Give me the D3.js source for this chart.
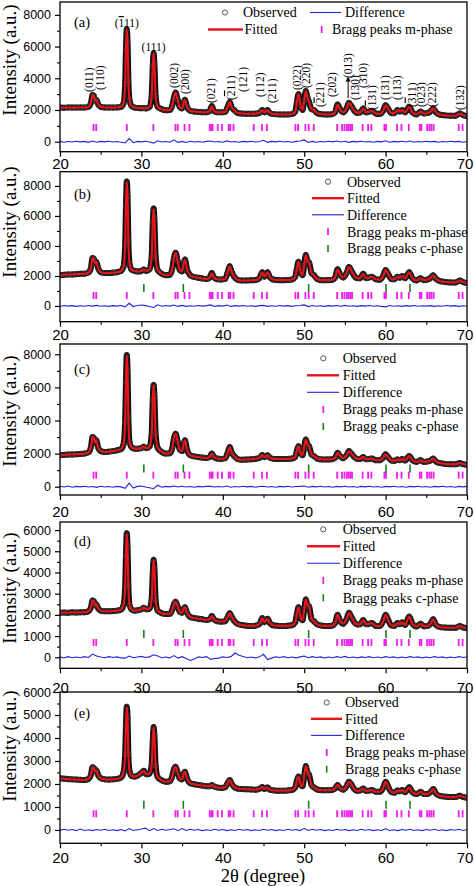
<!DOCTYPE html>
<html><head><meta charset="utf-8">
<script src="https://cdn.jsdelivr.net/npm/d3@7"></script>
<style>
body{margin:0;background:#fff;}
svg{display:block;}
text{font-family:"Liberation Serif","Times New Roman",serif;fill:#000;}
</style></head><body>
<svg id="chart" width="474" height="886"></svg>
<script>
// ---------------- DATA ----------------
const twoTheta = [20,20.5,21,21.5,22,22.5,23,23.5,23.8,24.0,
 24.15,24.3,24.45,24.7,25.0,25.5,26,26.5,27,27.5,
 27.8,28.0,28.1,28.2,28.3,28.4,28.55,28.8,29.2,29.6,
 30.0,30.3,30.6,31.0,31.25,31.4,31.5,31.6,31.75,32.0,
 32.5,33.0,33.5,33.8,34.0,34.2,34.45,34.7,35.0,35.2,
 35.35,35.6,36.0,36.5,37.0,37.5,38.0,38.4,38.65,38.9,
 39.3,39.8,40.3,40.6,40.85,41.1,41.4,41.8,42.3,42.9,
 43.5,44.0,44.5,44.85,45.1,45.5,45.8,46.3,47.0,47.5,
 48.0,48.5,48.9,49.1,49.3,49.55,49.8,50.0,50.2,50.4,
 50.6,50.9,51.2,51.6,52.2,52.8,53.4,53.8,54.1,54.4,
 54.8,55.2,55.5,55.8,56.1,56.5,56.9,57.25,57.6,58.0,
 58.3,58.8,59.3,59.7,60.0,60.3,60.7,61.1,61.45,61.75,
 62.05,62.4,62.9,63.3,63.8,64.3,64.7,65.1,65.5,65.85,
 66.2,66.7,67.3,68.0,68.6,69.1,69.5,70.0];

const observedA = [2150,2140,2160,2150,2150,2160,2150,2200,2450,2950,
 2900,2600,2650,2350,2200,2160,2150,2150,2160,2200,
 2400,3600,5800,7100,6300,3900,2600,2250,2150,2120,
 2110,2120,2100,2200,2800,4800,5600,4900,2900,2200,
 2050,1990,2000,2300,2800,3100,2650,2200,2100,2500,
 2650,2200,1950,1900,1880,1860,1850,1950,2250,1950,
 1850,1850,1880,2200,2500,2150,2000,1820,1780,1760,
 1760,1770,1820,2000,1850,2000,1800,1740,1720,1720,
 1720,1740,1900,2500,3000,2300,2000,2600,3200,2800,
 2500,2050,2000,1800,1730,1720,1730,1850,2350,2050,
 1850,2100,2450,2250,2000,1820,1850,2100,1850,1900,
 1950,1780,1750,1950,2300,2100,1800,1800,2000,1900,
 2000,1850,2200,1850,1720,1900,1780,1800,1900,2100,
 1850,1700,1660,1640,1640,1780,1680,1600];

const observedB = [2050,2080,2100,2100,2120,2140,2150,2230,2550,3200,
 3150,2850,2950,2500,2250,2200,2200,2220,2250,2330,
 2600,4000,6600,8300,7300,4400,2800,2420,2330,2300,
 2330,2430,2330,2450,3200,5600,6500,5800,3300,2400,
 2150,2050,2080,2500,3200,3550,3000,2400,2300,2850,
 3100,2450,2050,1930,1880,1830,1800,1900,2200,1900,
 1780,1760,1800,2250,2650,2250,1950,1750,1700,1700,
 1710,1730,1850,2250,1950,2250,1900,1750,1720,1720,
 1730,1760,1950,2500,2950,2300,2050,2750,3400,3000,
 2900,2200,2050,1800,1720,1720,1730,1900,2450,2100,
 1900,2200,2600,2350,2050,1850,1850,2150,1850,1900,
 1950,1780,1750,2000,2400,2150,1800,1780,1950,1880,
 2000,1850,2250,1850,1700,1850,1720,1750,1850,2050,
 1800,1650,1600,1570,1560,1700,1600,1520];

const observedC = [1900,1920,1940,1950,1960,1980,2000,2080,2400,3000,
 2950,2650,2800,2350,2150,2100,2120,2150,2200,2270,
 2550,3900,6300,7950,7000,4200,2700,2380,2300,2300,
 2330,2420,2330,2430,3100,5300,6150,5500,3200,2350,
 2100,2000,2020,2350,2950,3200,2750,2250,2150,2600,
 2800,2250,1900,1830,1790,1760,1730,1800,2000,1800,
 1700,1680,1720,2050,2400,2050,1850,1680,1630,1640,
 1660,1680,1740,1920,1780,1900,1750,1680,1670,1670,
 1680,1700,1800,2200,2450,2050,1900,2400,2850,2550,
 2450,1950,1850,1700,1650,1650,1660,1750,2050,1850,
 1720,1900,2150,2000,1820,1680,1680,1800,1660,1680,
 1700,1600,1600,1750,1960,1800,1580,1560,1650,1600,
 1680,1580,1850,1600,1500,1600,1500,1520,1580,1700,
 1520,1420,1380,1360,1350,1430,1370,1320];

const observedD = [2100,2110,2100,2120,2110,2120,2120,2170,2350,2680,
 2650,2450,2500,2300,2200,2170,2170,2180,2200,2250,
 2450,3300,4800,5850,5200,3400,2450,2250,2200,2220,
 2260,2340,2260,2300,2700,4000,4600,4200,2700,2200,
 2080,2040,2050,2250,2500,2620,2400,2150,2100,2300,
 2360,2100,1900,1850,1820,1790,1760,1800,1950,1800,
 1700,1680,1700,1900,2080,1900,1720,1580,1520,1490,
 1480,1490,1560,1850,1650,1820,1600,1500,1480,1480,
 1490,1510,1650,2050,2360,1900,1750,2250,2730,2450,
 2400,1800,1700,1550,1490,1480,1490,1600,2000,1720,
 1580,1800,2100,1900,1680,1550,1560,1760,1560,1580,
 1620,1480,1470,1700,2000,1780,1500,1480,1620,1560,
 1650,1520,1920,1580,1450,1580,1460,1470,1570,1790,
 1520,1420,1400,1390,1390,1480,1410,1370];

const observedE = [2250,2230,2210,2200,2190,2180,2170,2220,2400,2730,
 2700,2550,2600,2380,2250,2200,2190,2200,2220,2280,
 2500,3300,4500,5360,4900,3300,2550,2350,2320,2380,
 2480,2570,2420,2450,2800,3900,4480,4100,2800,2300,
 2160,2100,2120,2350,2650,2750,2500,2250,2200,2450,
 2530,2250,2030,1990,1960,1930,1900,1900,1960,1900,
 1850,1830,1860,2050,2170,2000,1870,1800,1780,1770,
 1760,1750,1790,1870,1780,1850,1750,1720,1710,1710,
 1720,1740,1850,2150,2320,2000,1900,2350,2780,2500,
 2400,1950,1850,1760,1730,1730,1740,1800,1960,1820,
 1750,1900,2100,1980,1800,1700,1720,1800,1700,1710,
 1740,1660,1660,1830,2100,1900,1650,1620,1720,1680,
 1740,1640,1860,1640,1560,1660,1560,1560,1640,1780,
 1580,1480,1450,1430,1430,1490,1440,1400];

const diffTwoTheta = [20,20.5,21,21.5,22,22.5,23,23.5,24,24.5,
 25,25.5,26,26.5,27,27.5,28,28.5,29,29.5,
 30,30.5,31,31.5,32,32.5,33,33.5,34,34.5,
 35,35.5,36,36.5,37,37.5,38,38.5,39,39.5,
 40,40.5,41,41.5,42,42.5,43,43.5,44,44.5,
 45,45.5,46,46.5,47,47.5,48,48.5,49,49.5,
 50,50.5,51,51.5,52,52.5,53,53.5,54,54.5,
 55,55.5,56,56.5,57,57.5,58,58.5,59,59.5,
 60,60.5,61,61.5,62,62.5,63,63.5,64,64.5,
 65,65.5,66,66.5,67,67.5,68,68.5,69,69.5,70];

const differenceA = [20,-30,10,-20,30,-10,20,-40,40,-30,
 20,-10,30,-20,10,-30,-80,200,-60,20,
 -10,30,-20,-90,60,-20,10,-30,120,-40,
 20,-50,30,-20,10,-30,20,40,-20,10,
 -30,50,-20,10,-30,20,-10,30,-20,10,
 90,-40,20,-10,30,-20,10,-30,20,40,
 110,-50,20,-30,10,-20,30,-10,40,-20,
 30,-40,20,-10,30,-20,10,-30,20,-10,
 60,-30,20,-10,30,-20,40,-30,10,-20,
 30,-10,20,-30,10,-20,30,-10,20,-30,10];

const differenceB = [-20,30,-10,20,-30,10,-20,30,-10,40,
 -20,10,-30,20,-10,30,-60,180,-40,30,
 60,20,-40,-100,80,-20,30,-10,60,-30,
 40,-30,10,-20,30,-10,20,70,-30,20,
 -10,60,-30,20,-10,30,-20,10,-30,20,
 40,-30,10,-20,30,-10,20,-30,10,30,
 70,-40,30,-20,10,-30,20,-10,30,-20,
 40,-20,10,-30,20,-10,30,-20,10,-30,
 -60,30,-20,10,-30,20,-10,30,-20,10,
 -10,20,-30,10,-20,30,-10,20,-30,10,-20];

const differenceC = [30,-20,40,-30,20,-10,30,-20,10,-40,
 30,-20,10,-30,20,-10,-100,220,-80,20,
 40,-20,-60,-120,90,-30,20,-10,40,-20,
 30,-20,10,-30,20,-10,30,20,-20,10,
 -20,40,-30,10,-20,30,-10,20,-30,10,
 30,-20,10,-30,20,-10,30,-20,10,20,
 40,-30,20,-10,30,-20,10,-30,20,-10,
 30,-20,10,-30,20,-10,30,-20,10,-30,
 20,-10,30,-20,10,-30,20,-10,30,-20,
 10,-30,20,-10,30,-20,10,-30,20,-10,20];

const differenceD = [20,-30,30,-20,10,-20,30,-10,150,60,
 10,-20,30,-10,20,-30,-40,60,-20,10,
 40,-10,20,120,60,-20,10,-30,80,-40,
 30,-60,-150,-80,20,-10,30,-100,-60,-40,
 20,-10,30,200,100,40,-20,10,-30,20,
 140,-110,-40,20,-10,30,-20,10,-30,20,
 60,-20,30,-10,20,-30,10,-20,30,-10,
 40,-20,10,-30,20,-10,30,-20,10,-20,
 30,-10,20,-30,10,-20,30,-10,20,-30,
 10,-20,30,-10,20,-30,10,-20,30,-10,10];

const differenceE = [-20,30,-10,20,-30,40,-20,10,-30,20,
 -10,30,-20,10,-30,20,-40,60,-20,10,
 40,80,-30,60,-20,30,-10,20,50,-30,
 60,-20,30,-10,20,-30,10,-20,30,-10,
 20,-30,10,-20,30,-10,20,-30,10,-20,
 30,-10,20,-30,10,-20,30,-10,20,-30,
 70,-20,30,-10,20,-30,10,-20,30,-10,
 20,-30,10,-20,30,-10,20,-30,10,-20,
 50,-20,10,-30,20,-10,30,-20,10,-30,
 20,-10,30,-20,10,-30,20,-10,30,-20,10];

const braggM = [24.12,24.45,28.2,31.47,34.18,34.46,35.3,35.9,38.4,38.6,38.75,39.37,39.9,
 40.72,40.92,41.32,43.8,44.82,45.42,48.92,49.25,50.15,50.55,51.17,54.05,54.65,54.95,
 55.25,55.47,55.68,55.88,57.18,57.85,58.25,59.85,60.05,61.4,61.95,62.85,64.2,64.4,
 65.1,65.38,65.62,65.9,68.98,69.46];
const braggC = [30.3,35.15,50.55,60.05,63.0];

const xMajorTicks = [20,30,40,50,60,70];
const xMinorTicks = [25,35,45,55,65];
const yMajorHigh = [0,2000,4000,6000,8000];
const yMinorHigh = [1000,3000,5000,7000];
const yMajorLow = [0,1000,2000,3000,4000,5000,6000];
const yMinorLow = [500,1500,2500,3500,4500,5500];

const legendNames = ["Observed","Fitted","Difference","Bragg peaks m-phase","Bragg peaks c-phase"];
const panelTags = ["(a)","(b)","(c)","(d)","(e)"];

// Miller indices of panel (a): text ("-" = overbar on next digit), 2θ, intensity at label start
const millerText = ["(011)","(110)","(002)","(200)","(021)","(-211)","(121)","(112)","(211)",
 "(022)","(220)","(-221)","(202)","(013)","(130)","(310)","(-131)","(131)","(113)","(-311)","(023)","(222)","(132)"];
const millerPos = [23.6,24.9,34.0,35.35,38.5,41.0,42.5,44.6,46.0,
 49.1,50.2,52.0,53.4,55.4,56.2,57.25,58.3,59.9,61.45,63.2,64.4,65.65,69.1];
const millerBase = [3140,3260,3390,3010,2440,2630,3140,2820,2440,
 3260,3390,2190,2820,4020,2630,3390,2000,2630,2630,2190,2190,2190,2000];
const millerFlatText = ["(-111)","(111)"];
const millerFlatPos = [28.2,31.5];
const millerFlatBase = [7230,5720];
const arrowFrom = [55.4,2750];
const arrowTo = [55.4,3950];

// ---------------- LAYOUT ----------------
const panels = [
 {obs:observedA, diff:differenceA, top:2, bottom:151.7, domain:[-630,8810], major:yMajorHigh, minor:yMinorHigh,
  mY:900, cY:null, xlab:11.5, tagY:26.5, titleY:60,
  legend:{type:"grid"}},
 {obs:observedB, diff:differenceB, top:171.7, bottom:321.7, domain:[-1050,8950], major:yMajorHigh, minor:yMinorHigh,
  mY:700, cY:1200, xlab:13.3, tagY:199, titleY:222,
  legend:{type:"col", sx:328, lx0:312, lx1:344, tx:347, rows:[181.7,198.2,214.8,231.6,248.5]}},
 {obs:observedC, diff:differenceC, top:344, bottom:495, domain:[-500,8620], major:yMajorHigh, minor:yMinorHigh,
  mY:700, cY:1100, xlab:16.5, tagY:374, titleY:411,
  legend:{type:"col", sx:323.3, lx0:307, lx1:339, tx:342.7, rows:[358.3,375.3,392.3,409.5,426.5]}},
 {obs:observedD, diff:differenceD, top:522, bottom:668.3, domain:[-520,6380], major:yMajorLow, minor:yMinorLow,
  mY:700, cY:1100, xlab:19.5, tagY:546, titleY:588,
  legend:{type:"col", sx:323.3, lx0:307, lx1:340, tx:342.7, rows:[529.3,546.3,563.3,580.5,597.7]}},
 {obs:observedE, diff:differenceE, top:692, bottom:843.3, domain:[-580,6000], major:yMajorLow, minor:yMinorLow,
  mY:700, cY:1100, xlab:14.5, tagY:718, titleY:746,
  legend:{type:"col", sx:326.7, lx0:311, lx1:342, tx:345, rows:[702.5,718.8,735.4,752.5,769.3]}}
];

const X0 = 60, X1 = 467;
const svg = d3.select("#chart");
const defs = svg.append("defs");
const x = d3.scaleLinear().domain([20,70]).range([X0,X1]);

const COL_RED = "#e8141c", COL_BLUE = "#2323d8", COL_MAG = "#f01cf0", COL_GREEN = "#16821e";

function addLabelText(sel, str){
  // "-" before a digit means overbar on that digit
  let i = 0;
  while (i < str.length){
    if (str[i] === "-" && i+1 < str.length){
      sel.append("tspan").text(str[i+1]).style("text-decoration","overline");
      i += 2;
    } else {
      let j = i;
      while (j < str.length && str[j] !== "-") j++;
      sel.append("tspan").text(str.slice(i,j));
      i = j;
    }
  }
}

panels.forEach((p, pi) => {
  const y = d3.scaleLinear().domain(p.domain).range([p.bottom, p.top]);
  const g = svg.append("g");
  const cid = "clip" + pi;
  defs.append("clipPath").attr("id", cid).append("rect")
    .attr("x", X0).attr("y", p.top).attr("width", X1 - X0).attr("height", p.bottom - p.top);
  const plot = g.append("g").attr("clip-path", `url(#${cid})`);

  const pts = twoTheta.map((t, j) => [t, p.obs[j]]);
  const line = d3.line().x(d => x(d[0])).y(d => y(d[1])).curve(d3.curveMonotoneX);

  // observed: dense black band + open circles
  plot.append("path").attr("d", line(pts)).attr("fill", "none")
    .attr("stroke", "#111").attr("stroke-width", 6).attr("stroke-linejoin", "round");
  plot.append("g").selectAll("circle").data(pts).join("circle")
    .attr("cx", d => x(d[0])).attr("cy", d => y(d[1])).attr("r", 2.5)
    .attr("fill", "none").attr("stroke", "#333").attr("stroke-width", 1);
  // fitted
  plot.append("path").attr("d", line(pts)).attr("fill", "none")
    .attr("stroke", COL_RED).attr("stroke-width", 2.1).attr("stroke-linejoin", "round");

  // difference
  const dpts = diffTwoTheta.map((t, j) => [t, p.diff[j]]);
  plot.append("path").attr("d", d3.line().x(d => x(d[0])).y(d => y(d[1]))(dpts))
    .attr("fill", "none").attr("stroke", COL_BLUE).attr("stroke-width", 1.1);

  // Bragg ticks
  plot.append("g").selectAll("line").data(braggM).join("line")
    .attr("x1", d => x(d)).attr("x2", d => x(d))
    .attr("y1", y(p.mY) - 3.5).attr("y2", y(p.mY) + 3.5)
    .attr("stroke", COL_MAG).attr("stroke-width", 1.8);
  if (p.cY !== null) {
    plot.append("g").selectAll("line").data(braggC).join("line")
      .attr("x1", d => x(d)).attr("x2", d => x(d))
      .attr("y1", y(p.cY) - 4).attr("y2", y(p.cY) + 4)
      .attr("stroke", COL_GREEN).attr("stroke-width", 1.6);
  }

  // frame
  g.append("rect").attr("x", X0).attr("y", p.top).attr("width", X1 - X0).attr("height", p.bottom - p.top)
    .attr("fill", "none").attr("stroke", "#000").attr("stroke-width", 1.3);

  // y axis
  const yax = g.append("g").attr("transform", `translate(${X0},0)`)
    .call(d3.axisLeft(y).tickValues(p.major).tickSize(5).tickSizeOuter(0).tickPadding(4).tickFormat(d3.format("d")));
  yax.select(".domain").remove();
  yax.selectAll("line").attr("stroke-width", 1.2);
  yax.selectAll("text").style("font-family", '"Liberation Sans", Arial, sans-serif').style("font-size", "12.5px").attr("fill", "#000");
  const yaxm = g.append("g").attr("transform", `translate(${X0},0)`)
    .call(d3.axisLeft(y).tickValues(p.minor).tickSize(3).tickSizeOuter(0).tickFormat(""));
  yaxm.select(".domain").remove();
  yaxm.selectAll("line").attr("stroke-width", 1.1);

  // x axis
  const xax = g.append("g").attr("transform", `translate(0,${p.bottom})`)
    .call(d3.axisBottom(x).tickValues(xMajorTicks).tickSize(5).tickSizeOuter(0).tickFormat(d3.format("d")));
  xax.select(".domain").remove();
  xax.selectAll("line").attr("stroke-width", 1.2);
  xax.selectAll("text").attr("y", p.xlab).attr("dy", "0.36em")
    .attr("dx", d => d === 70 ? -2.5 : 0)
    .style("font-family", '"Liberation Sans", Arial, sans-serif').style("font-size", "15px").attr("fill", "#000");
  const xaxm = g.append("g").attr("transform", `translate(0,${p.bottom})`)
    .call(d3.axisBottom(x).tickValues(xMinorTicks).tickSize(3).tickSizeOuter(0).tickFormat(""));
  xaxm.select(".domain").remove();
  xaxm.selectAll("line").attr("stroke-width", 1.1);

  // y title
  g.append("text").attr("transform", `translate(16,${p.titleY}) rotate(-90)`)
    .attr("text-anchor", "middle").style("font-size", "19px").text("Intensity (a.u.)");

  // panel tag
  g.append("text").attr("x", 74).attr("y", p.tagY).style("font-size", "14.5px").text(panelTags[pi]);

  // legend
  const L = g.append("g");
  const fs = "14px";
  function sym(kind, cx, cy, lx0, lx1) {
    if (kind === 0) L.append("circle").attr("cx", cx).attr("cy", cy).attr("r", 2.6).attr("fill", "none").attr("stroke", "#555").attr("stroke-width", 1);
    if (kind === 1) L.append("line").attr("x1", lx0).attr("x2", lx1).attr("y1", cy).attr("y2", cy).attr("stroke", COL_RED).attr("stroke-width", 2.4);
    if (kind === 2) L.append("line").attr("x1", lx0).attr("x2", lx1).attr("y1", cy).attr("y2", cy).attr("stroke", COL_BLUE).attr("stroke-width", 1.1);
    if (kind === 3) L.append("line").attr("x1", cx).attr("x2", cx).attr("y1", cy - 3.5).attr("y2", cy + 3.5).attr("stroke", COL_MAG).attr("stroke-width", 1.8);
    if (kind === 4) L.append("line").attr("x1", cx).attr("x2", cx).attr("y1", cy - 3.5).attr("y2", cy + 3.5).attr("stroke", COL_GREEN).attr("stroke-width", 1.6);
  }
  if (p.legend.type === "grid") {
    const items = [
      {k:0, cx:225, cy:12.5, tx:243},
      {k:2, cx:0, cy:12.5, lx0:310, lx1:341, tx:345},
      {k:1, cx:0, cy:29.5, lx0:208, lx1:243, tx:244.5},
      {k:3, cx:321.7, cy:29.5, tx:332}
    ];
    items.forEach(it => {
      sym(it.k, it.cx, it.cy, it.lx0, it.lx1);
      L.append("text").attr("x", it.tx).attr("y", it.cy).attr("dy", "0.35em").style("font-size", fs).text(legendNames[it.k]);
    });
  } else {
    const lg = p.legend;
    lg.rows.forEach((ry, k) => {
      sym(k, lg.sx, ry, lg.lx0, lg.lx1);
      L.append("text").attr("x", lg.tx).attr("y", ry).attr("dy", "0.35em").style("font-size", fs).text(legendNames[k]);
    });
  }

  // Miller indices for panel (a)
  if (pi === 0) {
    const M = g.append("g").style("font-size", "11.5px");
    millerText.forEach((t, k) => {
      const tx = x(millerPos[k]) + 4, ty = y(millerBase[k]);
      const el = M.append("text").attr("transform", `translate(${tx},${ty}) rotate(-90)`);
      addLabelText(el, t);
    });
    millerFlatText.forEach((t, k) => {
      const el = M.append("text").attr("x", x(millerFlatPos[k])).attr("y", y(millerFlatBase[k])).attr("text-anchor", "middle");
      addLabelText(el, t);
    });
    defs.append("marker").attr("id", "arrowHead").attr("viewBox", "0 0 10 10").attr("refX", 5).attr("refY", 5)
      .attr("markerWidth", 5).attr("markerHeight", 6).attr("orient", "auto")
      .append("path").attr("d", "M0,0 L10,5 L0,10 Z").attr("fill", "#000");
    g.append("line").attr("x1", x(arrowFrom[0])).attr("y1", y(arrowFrom[1]))
      .attr("x2", x(arrowTo[0])).attr("y2", y(arrowTo[1]))
      .attr("stroke", "#000").attr("stroke-width", 1).attr("marker-end", "url(#arrowHead)");
  }
});

// x title
svg.append("text").attr("x", 263).attr("y", 881.5).attr("text-anchor", "middle").style("font-size", "18.5px").text("2θ (degree)");
</script>
</body></html>
